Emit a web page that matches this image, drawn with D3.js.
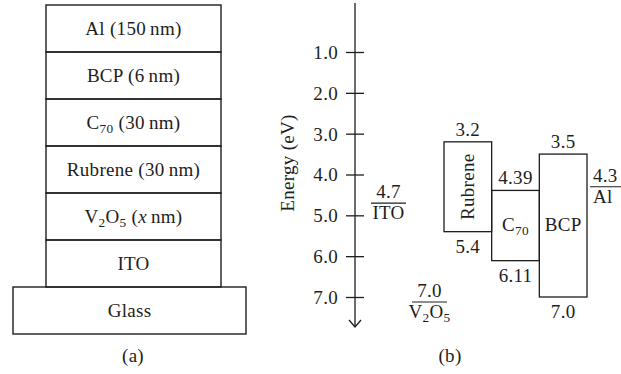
<!DOCTYPE html>
<html><head><meta charset="utf-8">
<script src="https://cdn.jsdelivr.net/npm/d3@7"></script>
<style>
html,body{margin:0;padding:0;background:#fff;}
svg text{font-family:"Liberation Serif","Times New Roman",serif;fill:#1e1e1e;letter-spacing:0.3px;}
</style></head>
<body><svg id="c" width="621" height="374"></svg>
<script>
// ---- Data ----
// (a) device stack, top to bottom
const layerLabels = ["Al (150\u2009nm)", "BCP (6\u2009nm)", "C_{70} (30\u2009nm)", "Rubrene (30\u2009nm)", "V_{2}O_{5} (*x*\u2009nm)", "ITO"];
const substrateLabel = "Glass";
// (b) energy levels (eV)
const materials = ["Rubrene", "C_{70}", "BCP"];
const lumo = [3.2, 4.39, 3.5];
const homo = [5.4, 6.11, 7.0];
const electrodes = ["ITO", "V_{2}O_{5}", "Al"];
const workFunction = [4.7, 7.0, 4.3];
const workFunctionText = ["4.7", "7.0", "4.3"];
const lumoText = ["3.2", "4.39", "3.5"];
const homoText = ["5.4", "6.11", "7.0"];
const energyTicks = [1, 2, 3, 4, 5, 6, 7];

const svg = d3.select("#c");
const FS = 19;
const ink = "#1e1e1e";

// rich text: _{..} subscript, *..* italic
function rich(sel, str, subSize) {
  const re = /_\{([^}]*)\}|\*([^*]*)\*|([^_*]+)/g;
  let m, prevSub = false;
  while ((m = re.exec(str)) !== null) {
    if (m[1] !== undefined) {
      sel.append("tspan").attr("dy", prevSub ? 0 : 4).attr("font-size", subSize || FS * 0.7).text(m[1]);
      prevSub = true;
    } else {
      const t = sel.append("tspan").text(m[2] !== undefined ? m[2] : m[3]);
      if (m[2] !== undefined) t.attr("font-style", "italic");
      if (prevSub) t.attr("dy", -4);
      prevSub = false;
    }
  }
  return sel;
}

// ---- (a) stack ----
const yStack = d3.scaleBand().domain(layerLabels.concat([substrateLabel])).range([5, 334]).padding(0);
const stackX0 = 46, stackX1 = 221;
const gA = svg.append("g");
layerLabels.forEach(l => {
  gA.append("rect").attr("x", stackX0).attr("y", yStack(l)).attr("width", stackX1 - stackX0)
    .attr("height", yStack.bandwidth()).attr("fill", "none").attr("stroke", ink).attr("stroke-width", 1.4);
  rich(gA.append("text").attr("x", (stackX0 + stackX1) / 2).attr("y", yStack(l) + yStack.bandwidth() / 2 + 6)
    .attr("text-anchor", "middle").attr("font-size", FS), l);
});
gA.append("rect").attr("x", 13).attr("y", yStack(substrateLabel)).attr("width", 233)
  .attr("height", yStack.bandwidth()).attr("fill", "none").attr("stroke", ink).attr("stroke-width", 1.4);
gA.append("text").attr("x", 129.5).attr("y", yStack(substrateLabel) + yStack.bandwidth() / 2 + 6)
  .attr("text-anchor", "middle").attr("font-size", FS).text(substrateLabel);
gA.append("text").attr("x", 133).attr("y", 362).attr("text-anchor", "middle").attr("font-size", FS).text("(a)");

// ---- (b) energy diagram ----
const yE = d3.scaleLinear().domain([1, 7]).range([52, 297]);
const axisX = 355;
const gB = svg.append("g");
gB.append("line").attr("x1", axisX).attr("x2", axisX).attr("y1", 3).attr("y2", 327)
  .attr("stroke", ink).attr("stroke-width", 1.3);
gB.append("path").attr("d", `M${axisX - 6},${320} L${axisX},${327} L${axisX + 6},${320}`)
  .attr("fill", "none").attr("stroke", ink).attr("stroke-width", 1.3);
const axis = d3.axisLeft(yE).tickValues(energyTicks).tickFormat(d3.format(".1f")).tickSize(0).tickPadding(0);
const ga = gB.append("g").attr("transform", `translate(${axisX},0)`).call(axis);
ga.select(".domain").remove();
ga.selectAll(".tick").each(function () {
  const t = d3.select(this);
  t.append("line").attr("x1", -9).attr("x2", 9).attr("stroke", ink).attr("stroke-width", 1.3);
  t.select("text").attr("x", -17).attr("dy", "0.34em").attr("font-size", FS)
    .attr("font-family", "Liberation Serif, serif").attr("fill", ink);
});
gB.append("text").attr("transform", `translate(294,163) rotate(-90)`).attr("text-anchor", "middle")
  .attr("font-size", FS).text("Energy (eV)");

// material boxes
const xM = d3.scaleBand().domain(materials).range([444, 587]).padding(0);
materials.forEach((m, i) => {
  const x = xM(m), w = xM.bandwidth();
  const y0 = yE(lumo[i]), y1 = yE(homo[i]);
  gB.append("rect").attr("x", x).attr("y", y0).attr("width", w).attr("height", y1 - y0)
    .attr("fill", "none").attr("stroke", ink).attr("stroke-width", 1.3);
  gB.append("text").attr("x", x + w / 2).attr("y", y0 - 6).attr("text-anchor", "middle")
    .attr("font-size", FS).text(lumoText[i]);
  gB.append("text").attr("x", x + w / 2).attr("y", y1 + 21).attr("text-anchor", "middle")
    .attr("font-size", FS).text(homoText[i]);
  const cy = (y0 + y1) / 2;
  if (m === "Rubrene") {
    gB.append("text").attr("transform", `translate(${x + w / 2 + 6},${cy}) rotate(-90)`)
      .attr("text-anchor", "middle").attr("font-size", FS).text(m);
  } else {
    rich(gB.append("text").attr("x", x + w / 2).attr("y", cy + 5).attr("text-anchor", "middle")
      .attr("font-size", FS), m);
  }
});

// electrode work functions
const xEl = d3.scaleOrdinal().domain(electrodes).range([[371, 406], [412, 447], [590, 640]]);
electrodes.forEach((e, i) => {
  const [x0, x1] = xEl(e);
  const y = yE(workFunction[i]) + (e === "V_{2}O_{5}" ? 5 : 0);
  gB.append("line").attr("x1", x0).attr("x2", x1).attr("y1", y).attr("y2", y)
    .attr("stroke", ink).attr("stroke-width", 1.2);
  const cx = e === "Al" ? x0 + 3 : (x0 + x1) / 2;
  const anchor = e === "Al" ? "start" : "middle";
  gB.append("text").attr("x", cx).attr("y", y - 5).attr("text-anchor", anchor)
    .attr("font-size", FS).text(workFunctionText[i]);
  rich(gB.append("text").attr("x", cx).attr("y", y + 16).attr("text-anchor", anchor)
    .attr("font-size", FS), e);
});
gB.append("text").attr("x", 450).attr("y", 362).attr("text-anchor", "middle").attr("font-size", FS).text("(b)");
</script></body></html>
